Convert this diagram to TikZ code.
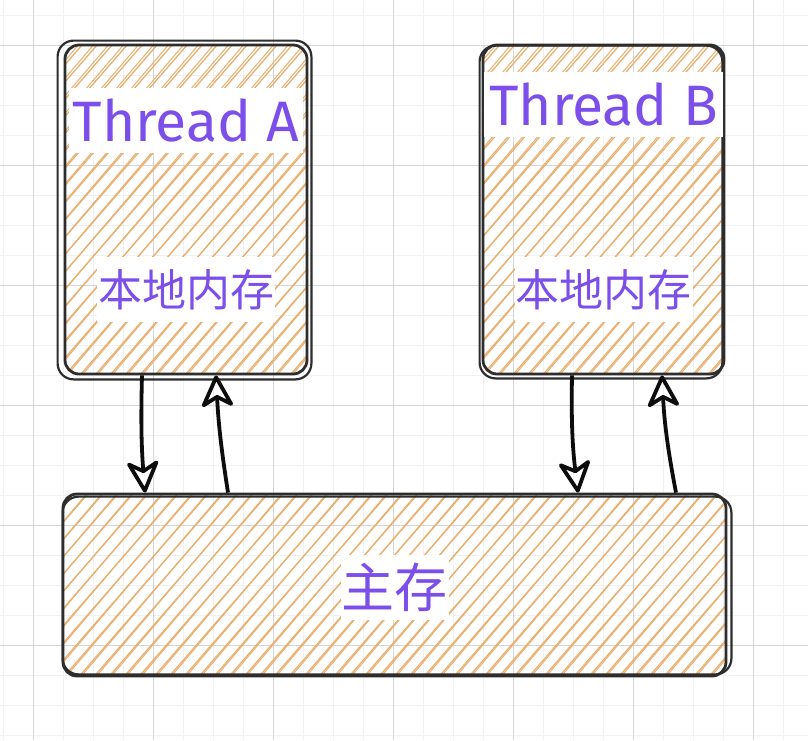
\documentclass[tikz,border=0pt]{standalone}
\usepackage{fontspec}
\setmainfont{Fira Sans}
\newfontfamily\cjk{Noto Sans CJK SC}
\usepackage{xcolor}
\usetikzlibrary{positioning,arrows.meta}
\definecolor{hatch}{RGB}{233,176,112}
\definecolor{ink}{RGB}{45,45,45}
\definecolor{violet}{RGB}{124,78,234}
\definecolor{gridminor}{RGB}{241,241,241}
\definecolor{gridmajor}{RGB}{214,214,214}

\begin{document}
\begin{tikzpicture}[%
    x=1pt,
    y=-1pt,
    flow/.style={%
      -{Stealth[open,length=36pt,width=36pt,inset=10pt,round]},
      line width=3.8pt,
      draw=black!95
    },
    hachure/.style={%
      path picture={%
        \foreach \k in {-45,...,45}{%
          \draw[hatch, line width=1.3pt]
            ([xshift=\k*15pt]path picture bounding box.south) ++(-300pt,-345pt) -- ++(600pt,690pt);
          \draw[hatch, line width=1pt]
            ([xshift=\k*15pt+3pt]path picture bounding box.south) ++(-295pt,-345pt) -- ++(588pt,690pt);
        }
      }
    },
    membox/.style={%
      rectangle,
      rounded corners=14pt,
      hachure,
      draw=ink,
      line width=2.8pt
    },
    sketch/.style={%
      draw=ink,
      line width=2.2pt,
      rounded corners=16pt
    },
    title/.style={%
      fill=white,
      text=violet,
      inner sep=0pt,
      minimum height=65pt,
      font=\fontsize{57}{60}\selectfont
    },
    memtext/.style={%
      fill=white,
      text=violet,
      inner sep=0pt,
      minimum width=178pt,
      minimum height=65pt,
      font=\cjk\fontsize{44}{48}\selectfont
    }
  ]
    \useasboundingbox (0,0) rectangle (808,740);
    \fill[white] (0,0) rectangle (808,740);
    \foreach \x in {3,33,...,808} \draw[gridminor, line width=1pt] (\x,0) -- (\x,740);
    \foreach \y in {15,45,...,740} \draw[gridminor, line width=1pt] (0,\y) -- (808,\y);
    \foreach \x in {33,153,...,808} \draw[gridmajor, line width=1pt] (\x,0) -- (\x,740);
    \foreach \y in {45,165,...,740} \draw[gridmajor, line width=1pt] (0,\y) -- (808,\y);

    \node[membox, minimum width=242pt, minimum height=329pt] (threadA)  at (186,209.5)   {};
    \node[membox, minimum width=241pt, minimum height=329pt] (threadB)  at (603.5,209.5) {};
    \node[membox, minimum width=663pt, minimum height=182pt] (mainmem)  at (394.5,585)   {};

    \draw[sketch] ([shift={(-6pt,3pt)}]threadA.north west) rectangle ([shift={(3pt,-4pt)}]threadA.south east);
    \draw[sketch] ([shift={(-2pt,-2pt)}]threadB.north west) rectangle ([shift={(-3pt,-3pt)}]threadB.south east);
    \draw[sketch] ([shift={(1pt,-4pt)}]mainmem.north west) rectangle ([shift={(4pt,3pt)}]mainmem.south east);

    \node[title, minimum width=234pt] (titleA) at ([yshift=-77pt]threadA.north) {Thread A};
    \node[title, minimum width=239pt] (titleB) at ([yshift=-61pt]threadB.north) {Thread B};
    \node[memtext] (localA) at ([yshift=86pt]threadA.south) {本地内存};
    \node[memtext] (localB) at ([yshift=86pt]threadB.south) {本地内存};
    \node[memtext, minimum width=108pt, font=\cjk\fontsize{53}{56}\selectfont] (mainlabel) at ([shift={(0pt,-2pt)}]mainmem.center) {主存};

    \draw[flow] ([xshift=-44pt]threadA.south)   to[bend right=3] ([xshift=-249.5pt]mainmem.north);
    \draw[flow] ([xshift=-166.5pt]mainmem.north) to[bend left=3]  ([xshift=30pt]threadA.south);
    \draw[flow] ([xshift=-31.5pt]threadB.south)  to[bend right=4] ([xshift=183.5pt]mainmem.north);
    \draw[flow] ([xshift=281.5pt]mainmem.north)  to[bend left=4]  ([xshift=58.5pt]threadB.south);
  \end{tikzpicture}
\end{document}
